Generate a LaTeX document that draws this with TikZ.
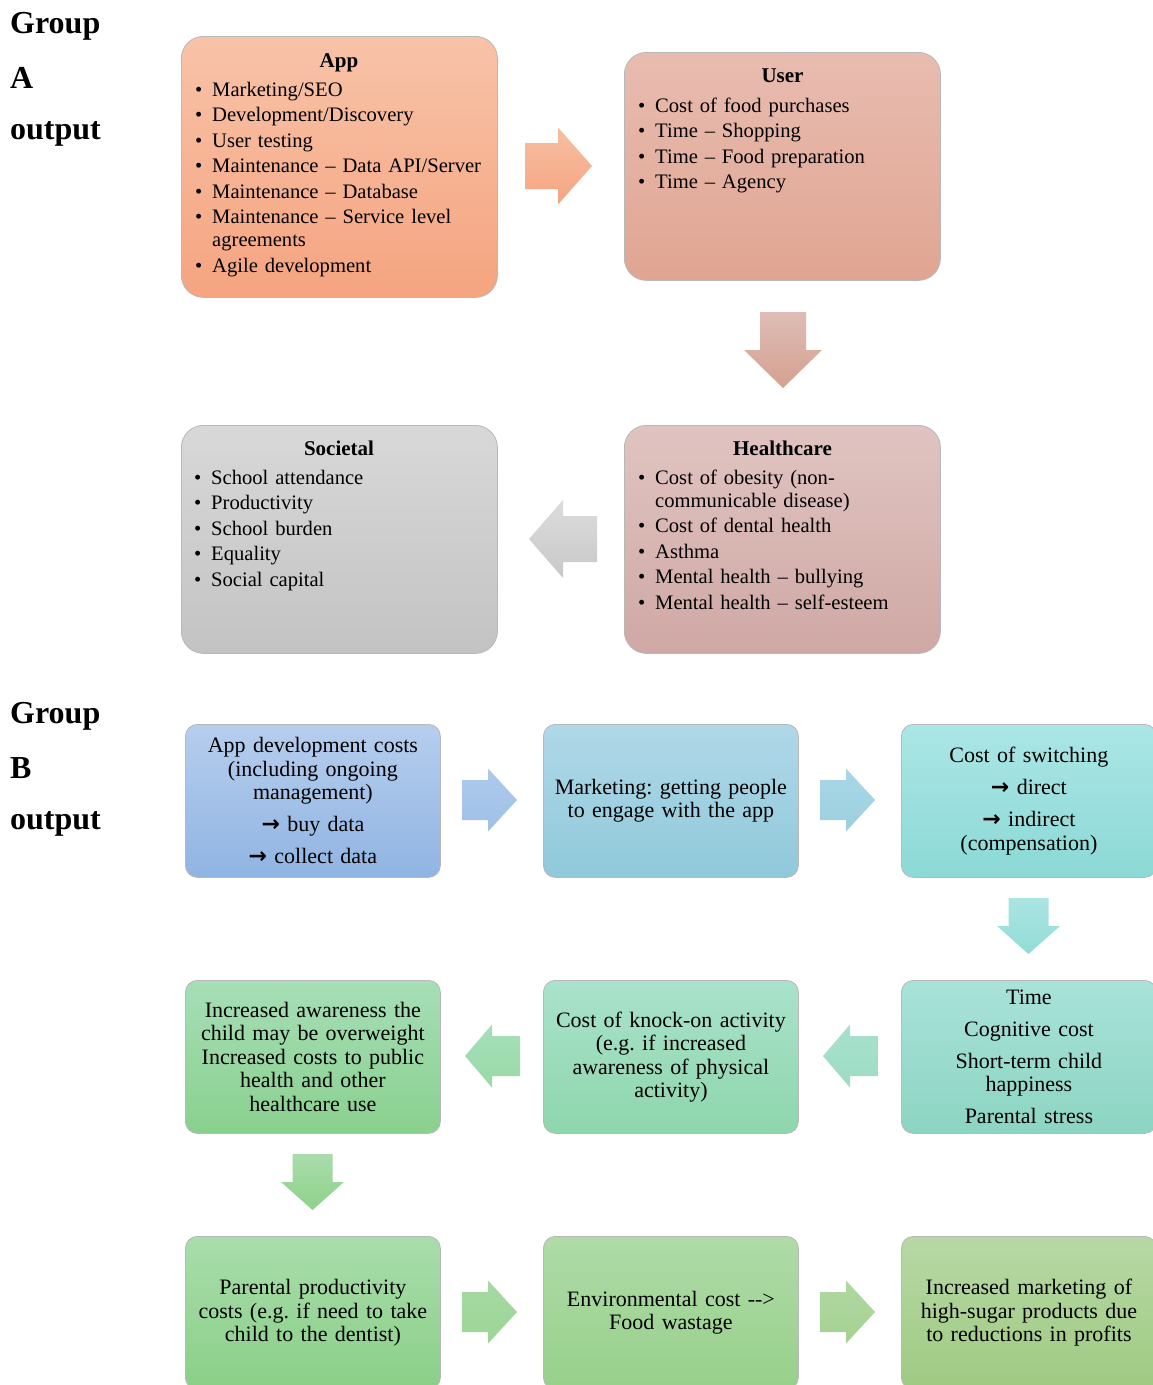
\documentclass[tikz,border=0pt]{standalone}
\usepackage{fontspec}
\setmainfont{Liberation Serif}
\newfontfamily\arrowfont{DejaVu Sans}
\usetikzlibrary{shadings}
\frenchspacing

% box gradients (top / bottom)
\definecolor{appT}{HTML}{F8C3A9}\definecolor{appB}{HTML}{F5A47F}
\definecolor{usrT}{HTML}{E8BCB0}\definecolor{usrB}{HTML}{E0A592}
\definecolor{hcT}{HTML}{E0C4C1}\definecolor{hcB}{HTML}{CFA8A4}
\definecolor{socT}{HTML}{D8D8D8}\definecolor{socB}{HTML}{C3C3C3}
\definecolor{bOneT}{HTML}{B6CEEE}\definecolor{bOneB}{HTML}{90B4E2}
\definecolor{bTwoT}{HTML}{B0D8E8}\definecolor{bTwoB}{HTML}{8FC9DA}
\definecolor{bThrT}{HTML}{ABE6E6}\definecolor{bThrB}{HTML}{8BD9D6}
\definecolor{cThrT}{HTML}{A9E2DA}\definecolor{cThrB}{HTML}{8CD5C2}
\definecolor{cTwoT}{HTML}{AAE2CC}\definecolor{cTwoB}{HTML}{8ED6AC}
\definecolor{cOneT}{HTML}{A6DEB7}\definecolor{cOneB}{HTML}{8AD08E}
\definecolor{dOneT}{HTML}{A9DDAB}\definecolor{dOneB}{HTML}{8ACF88}
\definecolor{dTwoT}{HTML}{AFDBA7}\definecolor{dTwoB}{HTML}{97D08B}
\definecolor{dThrT}{HTML}{B7D8A5}\definecolor{dThrB}{HTML}{9FCA82}
% block arrow gradients
\definecolor{aOneT}{HTML}{F7BEA2}\definecolor{aOneB}{HTML}{F5A582}
\definecolor{aTwoT}{HTML}{DEBDB6}\definecolor{aTwoB}{HTML}{D5A090}
\definecolor{aThrT}{HTML}{DCDCDC}\definecolor{aThrB}{HTML}{C8C8C8}
\definecolor{raOneT}{HTML}{ADCAEC}\definecolor{raOneB}{HTML}{A0C0E8}
\definecolor{raTwoT}{HTML}{A8D8E7}\definecolor{raTwoB}{HTML}{9CCFE0}
\definecolor{daOneT}{HTML}{ABE5E3}\definecolor{daOneB}{HTML}{92DCD6}
\definecolor{laOneT}{HTML}{A8E1CF}\definecolor{laOneB}{HTML}{9DDCC2}
\definecolor{laTwoT}{HTML}{A5DFBA}\definecolor{laTwoB}{HTML}{9AD9A6}
\definecolor{daTwoT}{HTML}{A9DCAA}\definecolor{daTwoB}{HTML}{8FD18B}
\definecolor{raThrT}{HTML}{A6D9A2}\definecolor{raThrB}{HTML}{9DD597}
\definecolor{raFouT}{HTML}{B0D8A2}\definecolor{raFouB}{HTML}{A5D192}

% bulleted entry with hanging indent
\newcommand\bitem[1]{\hangindent=17pt\hangafter=1\noindent\makebox[17pt][l]{\textbullet}#1\par}
\newcommand\arr{{\arrowfont\bfseries\fontsize{22}{23.5}\selectfont →}}

% horizontal block arrow: style, tail x, neck x, tip x, centre y, shaft half, head half
\newcommand\harrow[7]{\path[#1] (#2,#5-#6) -- (#3,#5-#6) -- (#3,#5-#7) -- (#4,#5) -- (#3,#5+#7) -- (#3,#5+#6) -- (#2,#5+#6) -- cycle;}
% vertical block arrow: style, tail y, neck y, tip y, centre x, shaft half, head half
\newcommand\varrow[7]{\path[#1] (#5-#6,#2) -- (#5+#6,#2) -- (#5+#6,#3) -- (#5+#7,#3) -- (#5,#4) -- (#5-#7,#3) -- (#5-#6,#3) -- cycle;}

\tikzset{
  grad/.style 2 args={top color=#1, bottom color=#2},
  boxA/.style={draw=black!28, line width=0.8pt, rounded corners=22pt,
    minimum width=316pt, inner sep=0pt, anchor=north west},
  boxB/.style={draw=black!28, line width=0.8pt, rounded corners=12pt,
    minimum width=255pt, minimum height=153pt, inner sep=0pt, anchor=north west,
    text width=250pt, align=center, font=\fontsize{22}{23.5}\selectfont},
  headA/.style={anchor=base, inner sep=0pt, font=\bfseries\fontsize{21}{23}\selectfont},
  listA/.style={anchor=base west, inner sep=0pt, text width=295pt, align=left,
    font=\fontsize{20.6}{23}\selectfont},
  grouplbl/.style={anchor=base west, inner sep=0pt, font=\bfseries\fontsize{32}{34}\selectfont},
}

\begin{document}
\begin{tikzpicture}[x=1pt, y=-1pt]
\useasboundingbox[fill=white] (0,0) rectangle (1152,1385);

% ---------------- Group A ----------------
\node[grouplbl] (gA1) at (10,33) {Group};
\node[grouplbl] (gA2) at (10,88) {A};
\node[grouplbl] (gA3) at (10,139) {output};

\node[boxA, minimum height=261pt, grad={appT}{appB}] (app) at (181,36) {};
\node[headA] (appH) at (339,67) {App};
\node[listA] (appL) at (195,96) {\setlength\parskip{2.5pt}%
  \bitem{Marketing/SEO}%
  \bitem{Development/Discovery}%
  \bitem{User testing}%
  \bitem{Maintenance – Data API/Server}%
  \bitem{Maintenance – Database}%
  \bitem{Maintenance – Service level\newline agreements}%
  \bitem{Agile development}};

\node[boxA, minimum height=228pt, grad={usrT}{usrB}] (usr) at (624,52) {};
\node[headA] (usrH) at (782.5,82) {User};
\node[listA] (usrL) at (638,112) {\setlength\parskip{2.5pt}%
  \bitem{Cost of food purchases}%
  \bitem{Time – Shopping}%
  \bitem{Time – Food preparation}%
  \bitem{Time – Agency}};

\node[boxA, minimum height=228pt, grad={hcT}{hcB}] (hc) at (624,425) {};
\node[headA] (hcH) at (782.5,455) {Healthcare};
\node[listA] (hcL) at (638,484) {\setlength\parskip{2.5pt}%
  \bitem{Cost of obesity (non-\newline communicable disease)}%
  \bitem{Cost of dental health}%
  \bitem{Asthma}%
  \bitem{Mental health – bullying}%
  \bitem{Mental health – self-esteem}};

\node[boxA, minimum height=228pt, grad={socT}{socB}] (soc) at (181,425) {};
\node[headA] (socH) at (339,455) {Societal};
\node[listA] (socL) at (194,484) {\setlength\parskip{2.5pt}%
  \bitem{School attendance}%
  \bitem{Productivity}%
  \bitem{School burden}%
  \bitem{Equality}%
  \bitem{Social capital}};

\harrow{grad={aOneT}{aOneB}}{525}{558}{592}{166}{23}{38.5}
\varrow{grad={aTwoT}{aTwoB}}{312}{350}{388}{783}{23}{39}
\harrow{grad={aThrT}{aThrB}}{597}{563}{529}{539}{23}{39}

% ---------------- Group B ----------------
\node[grouplbl] (gB1) at (10,723) {Group};
\node[grouplbl] (gB2) at (10,778) {B};
\node[grouplbl] (gB3) at (10,829) {output};

\node[boxB, grad={bOneT}{bOneB}] (b1) at (185,724)
  {App development costs\\(including ongoing\\management)\\[8.5pt]\arr{} buy data\\[8.5pt]\arr{} collect data};
\node[boxB, grad={bTwoT}{bTwoB}] (b2) at (543,724)
  {Marketing: getting people\\to engage with the app};
\node[boxB, grad={bThrT}{bThrB}] (b3) at (901,724)
  {Cost of switching\\[8.5pt]\arr{} direct\\[8.5pt]\arr{} indirect\\(compensation)};

\node[boxB, grad={cThrT}{cThrB}] (c3) at (901,980)
  {Time\\[8.5pt]Cognitive cost\\[8.5pt]Short-term child\\happiness\\[8.5pt]Parental stress};
\node[boxB, grad={cTwoT}{cTwoB}] (c2) at (543,980)
  {Cost of knock-on activity\\(e.g. if increased\\awareness of physical\\activity)};
\node[boxB, grad={cOneT}{cOneB}] (c1) at (185,980)
  {Increased awareness the\\child may be overweight\\Increased costs to public\\health and other\\healthcare use};

\node[boxB, grad={dOneT}{dOneB}] (d1) at (185,1236)
  {Parental productivity\\costs (e.g. if need to take\\child to the dentist)};
\node[boxB, grad={dTwoT}{dTwoB}] (d2) at (543,1236)
  {Environmental cost {-}{-}>\\Food wastage};
\node[boxB, grad={dThrT}{dThrB}] (d3) at (901,1236)
  {Increased marketing of\\high-sugar products due\\to reductions in profits};

\harrow{grad={raOneT}{raOneB}}{462}{488}{517}{800}{20}{31.5}
\harrow{grad={raTwoT}{raTwoB}}{820}{846}{875}{800}{20}{31.5}
\varrow{grad={daOneT}{daOneB}}{898}{926}{954}{1028.5}{20}{31.5}
\harrow{grad={laOneT}{laOneB}}{878}{850}{823}{1056}{20}{31.5}
\harrow{grad={laTwoT}{laTwoB}}{520}{492}{465}{1056}{20}{31.5}
\varrow{grad={daTwoT}{daTwoB}}{1154}{1182}{1210}{312.5}{20}{31.5}
\harrow{grad={raThrT}{raThrB}}{462}{488}{517}{1312}{20}{31.5}
\harrow{grad={raFouT}{raFouB}}{820}{846}{875}{1312}{20}{31.5}
\end{tikzpicture}
\end{document}
